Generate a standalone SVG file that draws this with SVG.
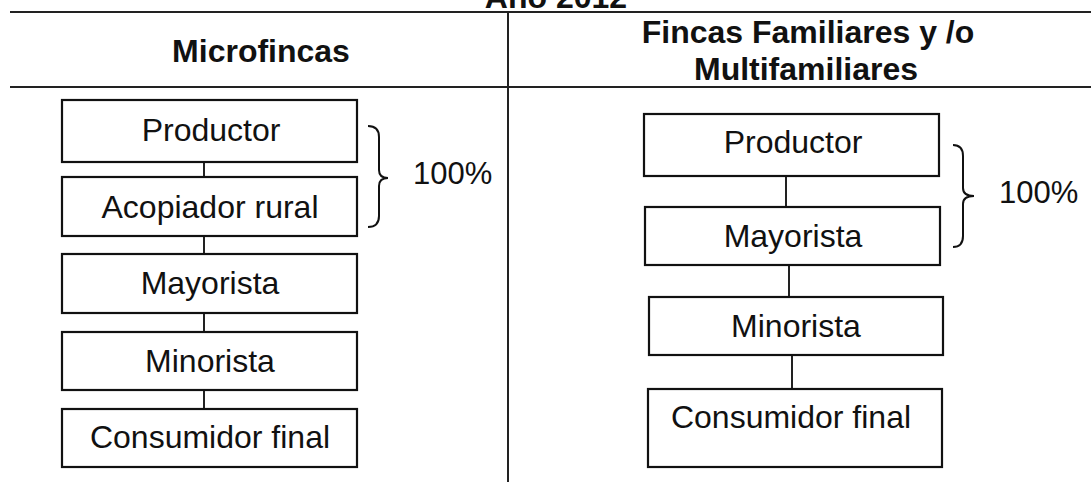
<svg xmlns="http://www.w3.org/2000/svg" width="1091" height="482" viewBox="0 0 1091 482">
<style>
text{font-family:"Liberation Sans",Arial,sans-serif;fill:#111}
.h{font-weight:bold;font-size:32px;text-anchor:middle}
.t{font-size:32px;text-anchor:middle}
.p{font-size:31px}
.box{fill:#fff;stroke:#111;stroke-width:2.2}
.ln{stroke:#222;stroke-width:2;fill:none}
.br{stroke:#111;stroke-width:2;fill:none}
</style>
<rect width="1091" height="482" fill="#fff"/>
<g id="table">
<text class="h" x="556" y="8">Año 2012</text>
<line class="ln" x1="10" y1="12" x2="1091" y2="12"/>
<line class="ln" x1="10" y1="87" x2="1091" y2="87"/>
<line class="ln" x1="508" y1="12" x2="508" y2="482"/>
<text class="h" x="261" y="62">Microfincas</text>
<text class="h" x="808" y="43">Fincas Familiares y /o</text>
<text class="h" x="806" y="80">Multifamiliares</text>
</g>
<g id="connectors">
<line class="ln" x1="204" y1="162" x2="204" y2="177"/>
<line class="ln" x1="204" y1="236" x2="204" y2="254"/>
<line class="ln" x1="204" y1="313" x2="204" y2="332"/>
<line class="ln" x1="204" y1="390" x2="204" y2="409"/>
<line class="ln" x1="786" y1="176" x2="786" y2="207"/>
<line class="ln" x1="789" y1="265" x2="789" y2="297"/>
<line class="ln" x1="792" y1="355" x2="792" y2="389"/>
</g>
<g id="l-productor"><rect class="box" x="62" y="100" width="295" height="62"/><text class="t" x="211" y="141">Productor</text></g>
<g id="l-acopiador"><rect class="box" x="62" y="177" width="295" height="59"/><text class="t" x="210" y="218">Acopiador rural</text></g>
<g id="l-mayorista"><rect class="box" x="62" y="254" width="295" height="59"/><text class="t" x="210" y="294">Mayorista</text></g>
<g id="l-minorista"><rect class="box" x="62" y="332" width="295" height="58"/><text class="t" x="210" y="372">Minorista</text></g>
<g id="l-consumidor"><rect class="box" x="62" y="409" width="295" height="58"/><text class="t" x="210" y="448">Consumidor final</text></g>
<g id="l-brace"><path class="br" d="M368,126 Q379,126 379,137 L379,170 Q379,178 388,178 Q379,178 379,186 L379,216 Q379,227 368,227"/><text class="p" x="413" y="184">100%</text></g>
<g id="r-productor"><rect class="box" x="644" y="114" width="295" height="62"/><text class="t" x="793" y="153">Productor</text></g>
<g id="r-mayorista"><rect class="box" x="645" y="207" width="295" height="58"/><text class="t" x="793" y="247">Mayorista</text></g>
<g id="r-minorista"><rect class="box" x="649" y="297" width="294" height="58"/><text class="t" x="796" y="337">Minorista</text></g>
<g id="r-consumidor"><rect class="box" x="648" y="389" width="294" height="78"/><text class="t" x="791" y="428">Consumidor final</text></g>
<g id="r-brace"><path class="br" d="M953,145 Q963,145 963,156 L963,188 Q963,196 974,196 Q963,196 963,204 L963,236 Q963,247 953,247"/><text class="p" x="999" y="203">100%</text></g>
</svg>
